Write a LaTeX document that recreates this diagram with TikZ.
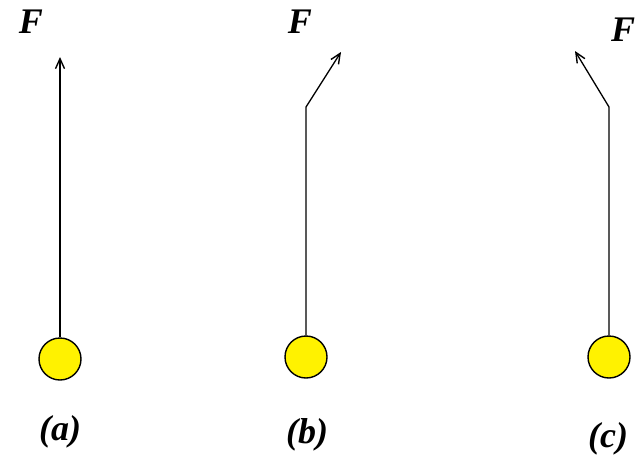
\documentclass[tikz,border=0pt]{standalone}
\usepackage{fontspec}
\setmainfont{Liberation Serif}
\usetikzlibrary{arrows.meta}
\begin{document}
\begin{tikzpicture}[x=1pt,y=-1pt,
  rod/.style={draw=black,line width=1.3pt,-{Straight Barb[length=10pt,width=9pt,line width=1.4pt]}},
  ball/.style={circle,draw=black,line width=1.4pt,fill=yellow,minimum size=42pt,inner sep=0pt},
  lab/.style={font=\fontsize{36}{36}\selectfont\bfseries\itshape,inner sep=0pt}]
\useasboundingbox (0,0) rectangle (644,455);
% (a)
\node[ball] (ba) at (60,359) {};
\coordinate (ta) at (60,57);
\draw[rod] (ba.north) -- (ta);
\node[lab] (fa) at (31,22) {F};
\node[lab] (la) at (60,432) {(a)};
% (b)
\node[ball] (bb) at (306,357) {};
\coordinate (kb) at (306,107);
\coordinate (tb) at (341,52);
\draw[rod] (bb.north) -- (kb) -- (tb);
\node[lab] (fb) at (300,22) {F};
\node[lab] (lb) at (307,435) {(b)};
% (c)
\node[ball] (bc) at (609,357) {};
\coordinate (kc) at (609,107);
\coordinate (tc) at (575,51);
\draw[rod] (bc.north) -- (kc) -- (tc);
\node[lab] (fc) at (623,30) {F};
\node[lab] (lc) at (608,439) {(c)};
\end{tikzpicture}
\end{document}
